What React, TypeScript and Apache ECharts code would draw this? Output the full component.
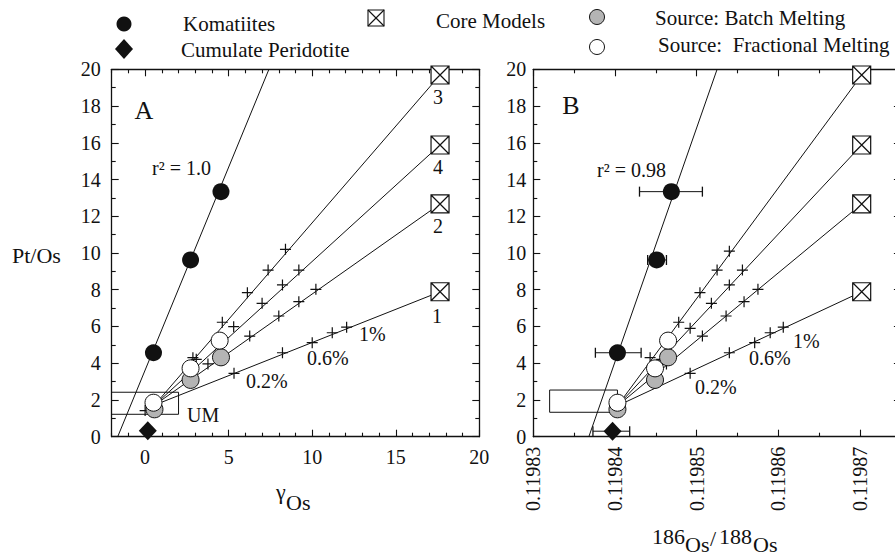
import React, { useEffect, useRef } from 'react';
import * as echarts from 'echarts';

const FONT = '"Liberation Serif", "Times New Roman", Times, serif';
const INK = '#111';
const GRAY = '#b4b4b4';

// ---------- Panel A : gamma-Os vs Pt/Os ----------
const komatiitesA = [[0.5, 4.57], [2.72, 9.62], [4.54, 13.34]];
const komFitA = [[-1.64, 0], [7.41, 20]];
const cumulateA = [[0.16, 0.33]];
const umBoxA = [[-2.06, 1.22], [2.0, 1.22], [2.0, 2.42], [-2.06, 2.42], [-2.06, 1.22]];
const batchA = [[0.56, 1.49], [2.72, 3.09], [4.54, 4.32]];
const fractionalA = [[0.5, 1.85], [2.72, 3.72], [4.46, 5.23]];
const coreXA = 17.65;
const modelStartA = [0.56, 1.72];
const extraPlusA = [[0.0, 1.42]];
const crossesA1 = [[5.32, 3.45], [8.22, 4.57], [10.0, 5.12], [11.2, 5.66], [12.06, 5.96]];
const crossesA3 = [[2.86, 4.3], [4.62, 6.23], [6.12, 7.84], [7.36, 9.07], [8.4, 10.2]];
const crossesA4 = [[3.06, 4.21], [5.3, 5.99], [7.0, 7.26], [8.22, 8.26], [9.2, 9.07]];
const crossesA2 = [[3.76, 3.96], [6.26, 5.48], [8.0, 6.57], [9.2, 7.35], [10.22, 8.02]];

// ---------- Panel B : 186Os/188Os vs Pt/Os ----------
const komatiitesB = [[0.1198403, 4.57], [0.1198451, 9.62], [0.1198469, 13.34]];
const komErrB = [[0.1198376, 0.1198432], [0.119844, 0.1198463], [0.119843, 0.1198507]];
const komFitB = [[0.1198368, 0], [0.1198525, 20]];
const cumulateB = [[0.1198397, 0.3]];
const cumulateErrB = [0.1198373, 0.1198418];
const umBoxB = [[0.119832, 1.33], [0.1198403, 1.33], [0.1198403, 2.54], [0.119832, 2.54], [0.119832, 1.33]];
const batchB = [[0.1198403, 1.49], [0.1198449, 3.09], [0.1198465, 4.32]];
const fractionalB = [[0.1198403, 1.85], [0.1198449, 3.72], [0.1198465, 5.23]];
const coreXB = 0.1198702;
const modelStartB = [0.1198403, 1.68];
const crossesB1 = [[0.1198492, 3.45], [0.119854, 4.57], [0.1198571, 5.12], [0.119859, 5.66], [0.1198606, 5.96]];
const crossesB3 = [[0.1198443, 4.3], [0.1198478, 6.23], [0.1198504, 7.84], [0.1198525, 9.07], [0.119854, 10.1]];
const crossesB4 = [[0.1198457, 4.21], [0.1198492, 5.9], [0.1198518, 7.26], [0.119854, 8.26], [0.1198556, 9.07]];
const crossesB2 = [[0.1198463, 3.96], [0.1198507, 5.48], [0.1198536, 6.57], [0.1198558, 7.35], [0.1198575, 8.02]];

// core model end-members (models 3, 4, 2, 1)
const coreY = [19.69, 15.88, 12.67, 7.89];
const coreIds = ['3', '4', '2', '1'];

// axes
const xTicksA = [0, 5, 10, 15, 20];
const xMinorA = [-2, -1, 1, 2, 3, 4, 6, 7, 8, 9, 11, 12, 13, 14, 16, 17, 18, 19];
const xTicksB = [0.11983, 0.11984, 0.11985, 0.11986, 0.11987];
const xMinorB = [0.119835, 0.119845, 0.119855, 0.119865, 0.119875];
const yTicks = [0, 2, 4, 6, 8, 10, 12, 14, 16, 18, 20];
const yMinor = [1, 3, 5, 7, 9, 11, 13, 15, 17, 19];

const PLUS = 'path://M5,0L5,10M0,5L10,5';
const XBOX = 'path://M0,0L10,0L10,10L0,10ZM0,0L10,10M10,0L0,10';

const axisLineStyle = { color: INK, width: 1.3 };
const tickStyle = { color: INK, width: 1.1 };

function makeAxes(dim: 'x' | 'y', gridIndex: number, min: number, max: number, majors: number[], minors: number[], label: any) {
  const posA = dim === 'x' ? 'bottom' : 'left';
  const posB = dim === 'x' ? 'top' : 'right';
  const base = { type: 'value', gridIndex, min, max, splitLine: { show: false } };
  return [
    {
      ...base, position: posA,
      axisLine: { show: true, onZero: false, lineStyle: axisLineStyle },
      axisTick: { show: true, inside: true, length: 7, customValues: majors, lineStyle: tickStyle },
      axisLabel: { show: true, customValues: majors, color: INK, fontFamily: FONT, fontSize: 20, ...label },
    },
    {
      ...base, position: posA,
      axisLine: { show: false, onZero: false },
      axisTick: { show: true, inside: true, length: 4, customValues: minors, lineStyle: tickStyle },
      axisLabel: { show: false },
    },
    {
      ...base, position: posB,
      axisLine: { show: true, onZero: false, lineStyle: axisLineStyle },
      axisTick: { show: true, inside: true, length: 7, customValues: majors, lineStyle: tickStyle },
      axisLabel: { show: false },
    },
    {
      ...base, position: posB,
      axisLine: { show: false, onZero: false },
      axisTick: { show: true, inside: true, length: 4, customValues: minors, lineStyle: tickStyle },
      axisLabel: { show: false },
    },
  ];
}

function line(data: any[], xi: number, yi: number, extra: any = {}) {
  return {
    type: 'line', xAxisIndex: xi, yAxisIndex: yi, data, symbol: 'none', showSymbol: false,
    lineStyle: { color: INK, width: 1 }, silent: true, z: 2, ...extra,
  };
}
function scatter(data: any[], xi: number, yi: number, symbol: string, size: any, itemStyle: any, z = 5) {
  return {
    type: 'scatter', xAxisIndex: xi, yAxisIndex: yi, data, symbol, symbolSize: size,
    itemStyle: { opacity: 1, ...itemStyle }, z, silent: true,
  };
}

function panelSeries(ax: number, d: any) {
  const s: any[] = [];
  s.push(line(d.umBox, ax, ax, { clip: false, z: 1 }));
  s.push(line(d.fit, ax, ax));
  coreY.forEach((y) => s.push(line([d.start, [d.coreX, y]], ax, ax)));
  if (d.errs) {
    d.errs.forEach((e: number[], i: number) => {
      const y = d.kom[i][1];
      s.push(line([[e[0], y], [e[1], y]], ax, ax, { symbol: 'rect', showSymbol: true, symbolSize: [1.3, 10], itemStyle: { color: INK, opacity: 1 }, z: 3 }));
    });
    const ce = d.cumErr;
    const cy = d.cum[0][1];
    s.push(line([[ce[0], cy], [ce[1], cy]], ax, ax, { symbol: 'rect', showSymbol: true, symbolSize: [1.3, 10], itemStyle: { color: INK, opacity: 1 }, z: 3 }));
  }
  const crosses = [...d.c1, ...d.c2, ...d.c3, ...d.c4, ...(d.extraPlus || [])];
  s.push(scatter(crosses, ax, ax, PLUS, 11, { color: 'none', borderColor: INK, borderWidth: 1.2 }, 4));
  s.push(scatter(coreY.map((y) => [d.coreX, y]), ax, ax, XBOX, 18, { color: '#fff', borderColor: INK, borderWidth: 1.2 }, 6));
  s.push(scatter(d.kom, ax, ax, 'circle', 17, { color: INK }));
  s.push(scatter(d.cum, ax, ax, 'diamond', [18, 19], { color: INK }));
  s.push(scatter(d.batch, ax, ax, 'circle', 17, { color: GRAY, borderColor: INK, borderWidth: 1 }));
  s.push(scatter(d.frac, ax, ax, 'circle', 17, { color: '#fff', borderColor: INK, borderWidth: 1 }));
  return s;
}

function txt(text: string, x: number, y: number, size: number, align = 'left') {
  return {
    type: 'text', x, y, silent: true, z: 20,
    style: { text, fill: INK, fontFamily: FONT, fontSize: size, align, verticalAlign: 'middle' },
  };
}

export default function App() {
  const ref = useRef<HTMLDivElement>(null);
  useEffect(() => {
    if (!ref.current) return;
    const chart = echarts.init(ref.current, null, { renderer: 'svg' });
    const xA = makeAxes('x', 0, -2, 20, xTicksA, xMinorA, { margin: 10 });
    const xB = makeAxes('x', 1, 0.11983, 0.119875, xTicksB, xMinorB, {
      margin: 10, rotate: 90, formatter: (v: number) => v.toFixed(5),
    });
    const yA = makeAxes('y', 0, 0, 20, yTicks, yMinor, { margin: 11 });
    const yB = makeAxes('y', 1, 0, 20, yTicks, yMinor, { margin: 7 });

    const seriesA = panelSeries(0, {
      umBox: umBoxA, fit: komFitA, start: modelStartA, coreX: coreXA,
      kom: komatiitesA, cum: cumulateA, batch: batchA, frac: fractionalA,
      c1: crossesA1, c2: crossesA2, c3: crossesA3, c4: crossesA4, extraPlus: extraPlusA,
    });
    const seriesB = panelSeries(4, {
      umBox: umBoxB, fit: komFitB, start: modelStartB, coreX: coreXB,
      kom: komatiitesB, cum: cumulateB, batch: batchB, frac: fractionalB,
      c1: crossesB1, c2: crossesB2, c3: crossesB3, c4: crossesB4,
      errs: komErrB, cumErr: cumulateErrB,
    });

    const legend: any[] = [
      { type: 'circle', shape: { cx: 124, cy: 24, r: 7.5 }, style: { fill: INK }, silent: true },
      txt('Komatiites', 183, 24, 21),
      { type: 'polygon', shape: { points: [[124, 39], [133, 49], [124, 59], [115, 49]] }, style: { fill: INK }, silent: true },
      txt('Cumulate Peridotite', 181, 50, 21),
      { type: 'rect', shape: { x: 368, y: 10, width: 16, height: 16 }, style: { fill: '#fff', stroke: INK, lineWidth: 1.1 }, silent: true },
      { type: 'line', shape: { x1: 368, y1: 10, x2: 384, y2: 26 }, style: { stroke: INK, lineWidth: 1.1 }, silent: true },
      { type: 'line', shape: { x1: 384, y1: 10, x2: 368, y2: 26 }, style: { stroke: INK, lineWidth: 1.1 }, silent: true },
      txt('Core Models', 436, 21, 21),
      { type: 'circle', shape: { cx: 597, cy: 17, r: 7.5 }, style: { fill: GRAY, stroke: INK, lineWidth: 1 }, silent: true },
      txt('Source: Batch Melting', 655, 18, 21),
      { type: 'circle', shape: { cx: 597, cy: 47, r: 7.5 }, style: { fill: '#fff', stroke: INK, lineWidth: 1 }, silent: true },
      txt('Source:\u00a0 Fractional Melting', 658, 45, 21),
    ];
    const notes: any[] = [
      txt('A', 144, 110, 26, 'center'),
      txt('r\u00b2 = 1.0', 152, 168, 20),
      txt('UM', 187, 415, 20),
      txt(coreIds[0], 433, 97, 20),
      txt(coreIds[1], 433, 167, 20),
      txt(coreIds[2], 433, 226, 20),
      txt(coreIds[3], 432, 316, 20),
      txt('0.2%', 246, 381, 20),
      txt('0.6%', 307, 358, 20),
      txt('1%', 359, 334, 20),
      txt('B', 571, 105, 26, 'center'),
      txt('r\u00b2 = 0.98', 597, 170, 20),
      txt('0.2%', 695, 387, 20),
      txt('0.6%', 749, 358, 20),
      txt('1%', 793, 341, 20),
      txt('Pt/Os', 12, 255, 22),
      txt('\u03b3', 276, 491, 22),
      txt('Os', 286, 502, 22),
      txt('186', 652, 536, 22),
      txt('Os', 685, 544, 22),
      txt('/', 710, 538, 22),
      txt('188', 719, 536, 22),
      txt('Os', 753, 544, 22),
    ];

    chart.setOption({
      animation: false,
      backgroundColor: '#fff',
      grid: [
        { left: 111.7, top: 69.3, width: 367.6, height: 367.4, containLabel: false, outerBoundsMode: 'none' },
        { left: 533.3, top: 69.3, width: 367.6, height: 367.4, containLabel: false, outerBoundsMode: 'none' },
      ],
      xAxis: [...xA, ...xB],
      yAxis: [...yA, ...yB],
      series: [...seriesA, ...seriesB],
      graphic: { elements: [...legend, ...notes] },
    });
    return () => chart.dispose();
  }, []);
  return (
    <div
      ref={ref}
      style={{ position: 'fixed', left: 0, top: 0, width: 895, height: 556, background: '#fff', overflow: 'hidden' }}
    />
  );
}
